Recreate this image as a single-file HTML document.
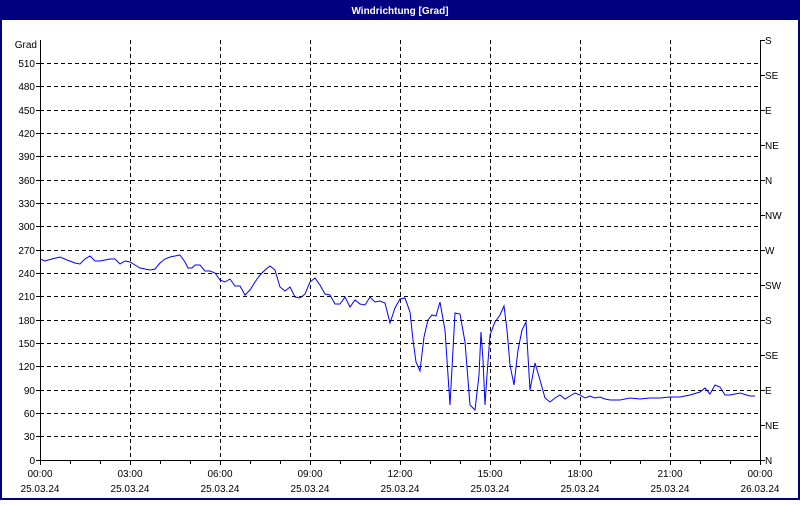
<!DOCTYPE html>
<html><head><meta charset="utf-8"><style>
body{margin:0;width:800px;height:500px;overflow:hidden;background:#fff;font-family:"Liberation Sans",sans-serif}
</style></head><body>
<svg width="800" height="500" xmlns="http://www.w3.org/2000/svg" font-family="Liberation Sans, sans-serif" font-size="10">
<rect x="0" y="0" width="800" height="500" fill="#fff"/>
<rect x="0" y="0" width="800" height="20" fill="#000080"/>
<rect x="0.5" y="0.5" width="799" height="499" fill="none" stroke="#000080"/>
<rect x="1" y="20" width="1" height="479" fill="#000080"/>
<rect x="798" y="20" width="1" height="479" fill="#000080"/>
<rect x="1" y="498" width="798" height="1" fill="#000080"/>
<text x="400" y="14" fill="#fff" font-weight="bold" text-anchor="middle" font-size="10">Windrichtung [Grad]</text>
<g stroke="#000" stroke-dasharray="4,3" stroke-width="1">
<path d="M130.5 40V460M220.5 40V460M310.5 40V460M400.5 40V460M490.5 40V460M580.5 40V460M670.5 40V460"/>
<path d="M40 63.5H760M40 86.5H760M40 110.5H760M40 133.5H760M40 156.5H760M40 180.5H760M40 203.5H760M40 226.5H760M40 250.5H760M40 273.5H760M40 296.5H760M40 320.5H760M40 343.5H760M40 366.5H760M40 390.5H760M40 413.5H760M40 436.5H760"/>
</g>
<g stroke="#000" fill="none">
<path d="M40.5 40V460.5H760.5V40"/>
<path d="M36 63.5H40M36 86.5H40M36 110.5H40M36 133.5H40M36 156.5H40M36 180.5H40M36 203.5H40M36 226.5H40M36 250.5H40M36 273.5H40M36 296.5H40M36 320.5H40M36 343.5H40M36 366.5H40M36 390.5H40M36 413.5H40M36 436.5H40M36 460.5H40"/>
<path d="M760 40.5H765M760 75.5H765M760 110.5H765M760 145.5H765M760 180.5H765M760 215.5H765M760 250.5H765M760 285.5H765M760 320.5H765M760 355.5H765M760 390.5H765M760 425.5H765M760 460.5H765"/>
<path d="M40.5 460V465M70.5 460V464M100.5 460V464M130.5 460V465M160.5 460V464M190.5 460V464M220.5 460V465M250.5 460V464M280.5 460V464M310.5 460V465M340.5 460V464M370.5 460V464M400.5 460V465M430.5 460V464M460.5 460V464M490.5 460V465M520.5 460V464M550.5 460V464M580.5 460V465M610.5 460V464M640.5 460V464M670.5 460V465M700.5 460V464M730.5 460V464M760.5 460V465"/>
</g>
<g text-anchor="end" fill="#000">
<text x="37" y="48">Grad</text>
<text x="35" y="67">510</text><text x="35" y="90">480</text><text x="35" y="114">450</text><text x="35" y="137">420</text><text x="35" y="160">390</text><text x="35" y="184">360</text><text x="35" y="207">330</text><text x="35" y="230">300</text><text x="35" y="254">270</text><text x="35" y="277">240</text><text x="35" y="300">210</text><text x="35" y="324">180</text><text x="35" y="347">150</text><text x="35" y="370">120</text><text x="35" y="394">90</text><text x="35" y="417">60</text><text x="35" y="440">30</text><text x="35" y="464">0</text>
</g>
<g fill="#000">
<text x="765" y="44">S</text><text x="765" y="79">SE</text><text x="765" y="114">E</text><text x="765" y="149">NE</text><text x="765" y="184">N</text><text x="765" y="219">NW</text><text x="765" y="254">W</text><text x="765" y="289">SW</text><text x="765" y="324">S</text><text x="765" y="359">SE</text><text x="765" y="394">E</text><text x="765" y="429">NE</text><text x="765" y="464">N</text>
</g>
<g text-anchor="middle" fill="#000">
<text x="40" y="477">00:00</text><text x="40" y="492">25.03.24</text>
<text x="130" y="477">03:00</text><text x="130" y="492">25.03.24</text>
<text x="220" y="477">06:00</text><text x="220" y="492">25.03.24</text>
<text x="310" y="477">09:00</text><text x="310" y="492">25.03.24</text>
<text x="400" y="477">12:00</text><text x="400" y="492">25.03.24</text>
<text x="490" y="477">15:00</text><text x="490" y="492">25.03.24</text>
<text x="580" y="477">18:00</text><text x="580" y="492">25.03.24</text>
<text x="670" y="477">21:00</text><text x="670" y="492">25.03.24</text>
<text x="760" y="477">00:00</text><text x="760" y="492">26.03.24</text>
</g>
<polyline fill="none" stroke="#0000ff" stroke-width="1" points="40,259 45,261 52,259 60,257 67,260 75,263 80,264 85,259 90,256 95,261 100,261 105,260 110,259 115,259 120,264 125,261 130,262 135,265 140,268 145,269 150,270 155,269 160,263 165,259 170,257 175,256 180,255 185,262 188,268 192,268 195,265 200,265 205,271 210,271 215,273 220,280 225,282 230,279 235,286 240,286 245,295 250,290 255,282 260,275 265,270 270,266 275,270 280,287 285,291 290,287 295,297 300,298 305,294 310,282 315,278 320,285 325,294 330,295 335,304 340,304 345,297 350,307 355,300 360,304 365,305 370,297 375,302 380,301 385,303 390,323 395,308 400,299 405,298 410,312 413,340 416,362 420,371 424,337 428,320 432,315 436,316 440,302 445,330 450,405 455,313 460,314 465,342 470,405 475,410 479,375 481,332 483,360 485,405 487,375 490,335 495,322 500,315 504,306 507,330 510,365 514,385 518,350 522,330 526,322 530,390 535,363 540,380 545,398 550,402 555,398 560,395 565,399 570,396 575,393 580,395 585,398 590,396 595,398 600,397 605,399 610,400 620,400 630,398 640,399 650,398 660,398 670,397 680,397 690,395 700,392 705,388 710,394 715,385 720,387 725,395 730,395 740,393 750,396 755,396"/>
</svg>
</body></html>
